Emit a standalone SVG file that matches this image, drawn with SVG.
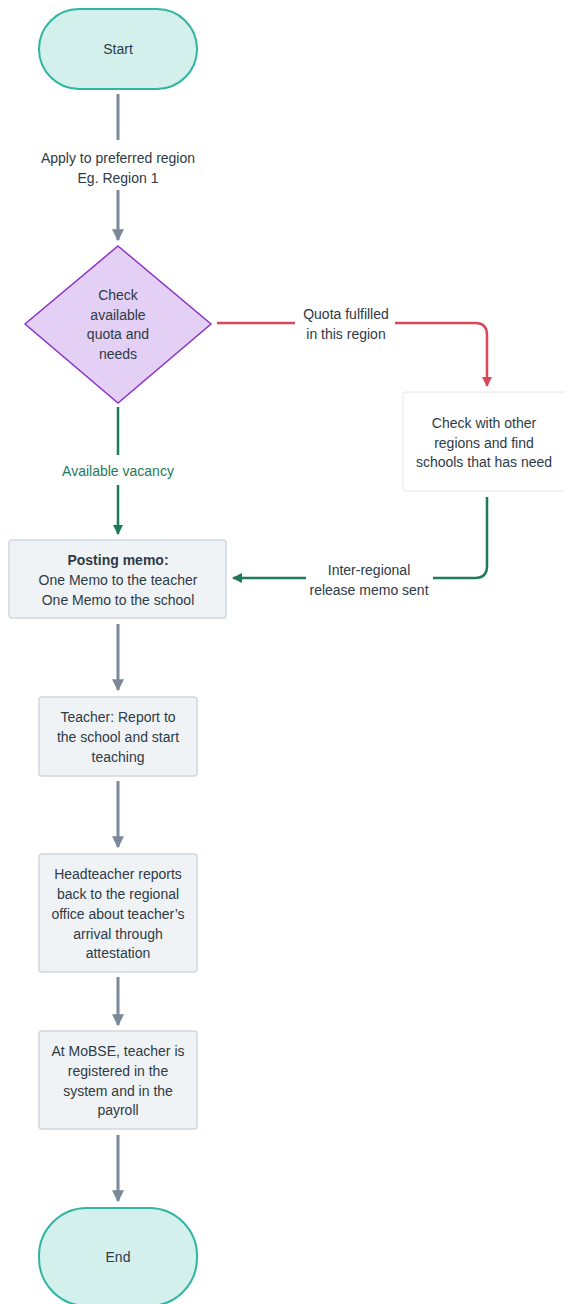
<svg xmlns="http://www.w3.org/2000/svg" width="565" height="1304" viewBox="0 0 565 1304">
  <style>
    text { font-family: "Liberation Sans", Arial, sans-serif; font-size: 14px; fill: #2e3a46; text-anchor: middle; dominant-baseline: central; }
    .term { fill: #d3f0ec; stroke: #2fb5a0; stroke-width: 2; }
    .dec { fill: #e3d0f4; stroke: #8b35c8; stroke-width: 1.5; }
    .box { fill: #f0f3f6; stroke: #cfd8e0; stroke-width: 1.5; }
    .wbox { fill: #ffffff; stroke: #e2e6ea; stroke-width: 1; }
    .gray { fill: none; stroke: #7a8898; stroke-width: 3; }
    .red { fill: none; stroke: #d9475a; stroke-width: 2.5; }
    .green { fill: none; stroke: #1e7a5c; stroke-width: 2.5; }
    .gtext { fill: #1e7a5c; }
    .bold { font-weight: bold; }
  </style>
  <defs>
    <marker id="ahGray" viewBox="0 0 10 10" refX="9" refY="5" markerWidth="4" markerHeight="4" orient="auto" markerUnits="strokeWidth">
      <path d="M0,0 L10,5 L0,10 z" fill="#7a8898"/>
    </marker>
    <marker id="ahRed" viewBox="0 0 10 10" refX="9" refY="5" markerWidth="4" markerHeight="4" orient="auto" markerUnits="strokeWidth">
      <path d="M0,0 L10,5 L0,10 z" fill="#d9475a"/>
    </marker>
    <marker id="ahGreen" viewBox="0 0 10 10" refX="9" refY="5" markerWidth="4" markerHeight="4" orient="auto" markerUnits="strokeWidth">
      <path d="M0,0 L10,5 L0,10 z" fill="#1e7a5c"/>
    </marker>
  </defs>

  <!-- connectors -->
  <g id="connectors">
    <path class="gray" d="M118,94 V140"/>
    <path class="gray" d="M118,190 V240" marker-end="url(#ahGray)"/>
    <text x="118" y="158">Apply to preferred region</text>
    <text x="118" y="178">Eg. Region 1</text>

    <path class="red" d="M217,323 H295"/>
    <path class="red" d="M395,323 H475 Q487,323 487,335 V386" marker-end="url(#ahRed)"/>
    <text x="346" y="314">Quota fulfilled</text>
    <text x="346" y="334">in this region</text>

    <path class="green" d="M118,407 V455"/>
    <path class="green" d="M118,485 V534" marker-end="url(#ahGreen)"/>
    <text class="gtext" x="118" y="471">Available vacancy</text>

    <path class="green" d="M487,497 V566 Q487,578 475,578 H433"/>
    <path class="green" d="M306,578 H233" marker-end="url(#ahGreen)"/>
    <text x="369" y="570">Inter-regional</text>
    <text x="369" y="590">release memo sent</text>

    <path class="gray" d="M118,624 V690" marker-end="url(#ahGray)"/>
    <path class="gray" d="M118,781 V847" marker-end="url(#ahGray)"/>
    <path class="gray" d="M118,977 V1025" marker-end="url(#ahGray)"/>
    <path class="gray" d="M118,1135 V1201" marker-end="url(#ahGray)"/>
  </g>

  <g id="start">
    <rect class="term" x="39" y="9" width="158" height="80" rx="40"/>
    <text x="118" y="49">Start</text>
  </g>

  <g id="check-quota">
    <polygon class="dec" points="118,246 211,324 118,403 25,324"/>
    <text x="118" y="295">Check</text>
    <text x="118" y="315">available</text>
    <text x="118" y="334">quota and</text>
    <text x="118" y="354">needs</text>
  </g>

  <g id="check-other-regions">
    <rect class="wbox" x="403" y="392" width="166" height="99" rx="2"/>
    <text x="484" y="423">Check with other</text>
    <text x="484" y="443">regions and find</text>
    <text x="484" y="462">schools that has need</text>
  </g>

  <g id="posting-memo">
    <rect class="box" x="9" y="540" width="217" height="78" rx="3"/>
    <text class="bold" x="118" y="560">Posting memo:</text>
    <text x="118" y="580">One Memo to the teacher</text>
    <text x="118" y="600">One Memo to the school</text>
  </g>

  <g id="teacher-report">
    <rect class="box" x="39" y="697" width="158" height="79" rx="3"/>
    <text x="118" y="717">Teacher: Report to</text>
    <text x="118" y="737">the school and start</text>
    <text x="118" y="757">teaching</text>
  </g>

  <g id="headteacher-report">
    <rect class="box" x="39" y="854" width="158" height="118" rx="3"/>
    <text x="118" y="874">Headteacher reports</text>
    <text x="118" y="894">back to the regional</text>
    <text x="118" y="914">office about teacher’s</text>
    <text x="118" y="934">arrival through</text>
    <text x="118" y="953">attestation</text>
  </g>

  <g id="mobse-register">
    <rect class="box" x="39" y="1031" width="158" height="98" rx="3"/>
    <text x="118" y="1051">At MoBSE, teacher is</text>
    <text x="118" y="1071">registered in the</text>
    <text x="118" y="1091">system and in the</text>
    <text x="118" y="1110">payroll</text>
  </g>

  <g id="end">
    <rect class="term" x="39" y="1208" width="158" height="98" rx="48"/>
    <text x="118" y="1257">End</text>
  </g>
</svg>
